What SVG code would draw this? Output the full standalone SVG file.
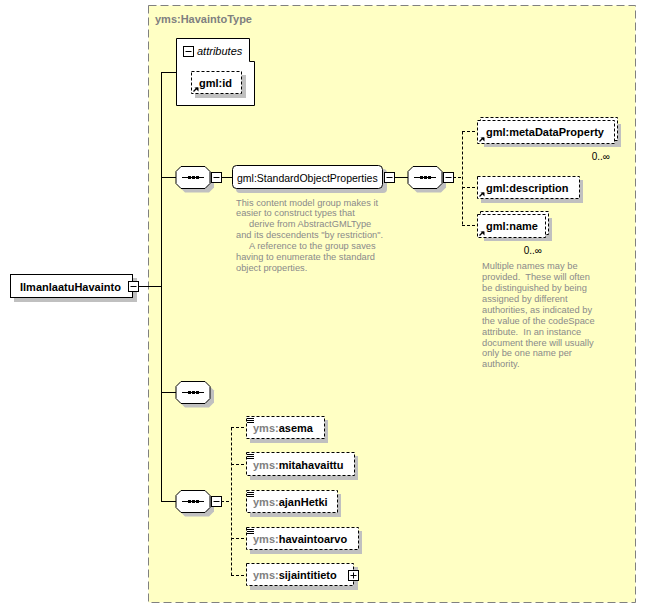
<svg xmlns="http://www.w3.org/2000/svg" width="647" height="609" viewBox="0 0 647 609">
<defs>
<style>
.shadow{fill:#c0c0c0;stroke:none}
.box{fill:#fff;stroke:#000;stroke-width:1}
.dbox{fill:#fff;stroke:#000;stroke-width:1;stroke-dasharray:3,2}
.ln{stroke:#000;stroke-width:1;fill:none}
.dln{stroke:#000;stroke-width:1;fill:none;stroke-dasharray:3,2}
.b{font-family:"Liberation Sans",Arial,sans-serif;font-size:11px;font-weight:bold;fill:#000}
.r{font-family:"Liberation Sans",Arial,sans-serif;font-size:10.5px;fill:#000}
.g{fill:#808080}
.c{font-family:"Liberation Sans",Arial,sans-serif;font-size:9.3px;fill:#8a8a8a}
.m{font-family:"Liberation Sans",Arial,sans-serif;font-size:10px;fill:#000}
</style>
<g id="comp">
<path class="shadow" d="M9,4 H33 L38,9 V21 L33,26 H9 L4,21 V9 Z"/>
<path class="box" d="M5,0 H29 L34,5 V17 L29,22 H5 L0,17 V5 Z"/>
<line class="ln" x1="6" y1="11" x2="28" y2="11"/>
<rect x="12" y="9.5" width="3" height="3" fill="#000"/>
<rect x="16" y="9.5" width="3" height="3" fill="#000"/>
<rect x="20" y="9.5" width="3" height="3" fill="#000"/>
</g>
<g id="minus"><rect class="box" x="0" y="0" width="10" height="10"/><line class="ln" x1="2" y1="5" x2="8" y2="5"/></g>
<g id="refarrow"><path d="M2,-2 L6,-6" stroke="#000" stroke-width="1.3"/><path d="M3,-6 H7 V-2 Z" fill="#000"/></g>
<g id="lines"><path d="M0,0 H7 M0,2 H7 M0,4 H7" stroke="#000" stroke-width="1"/></g>
</defs>

<rect x="148.5" y="5.5" width="487" height="597" fill="#ffffc4" stroke="#808080" stroke-dasharray="8,4"/>
<text class="b g" x="155" y="23">yms:HavaintoType</text>

<g id="connectors">
<line class="ln" x1="138" y1="286.5" x2="161.5" y2="286.5"/>
<line class="ln" x1="161.5" y1="72" x2="161.5" y2="501.5"/>
<line class="ln" x1="161" y1="72.5" x2="176" y2="72.5"/>
<line class="ln" x1="161" y1="177.5" x2="176" y2="177.5"/>
<line class="ln" x1="161" y1="392.5" x2="176" y2="392.5"/>
<line class="ln" x1="161" y1="501.5" x2="176" y2="501.5"/>
<line class="ln" x1="221" y1="177.5" x2="232" y2="177.5"/>
<line class="ln" x1="394" y1="177.5" x2="408" y2="177.5"/>
<line class="dln" x1="453" y1="177.5" x2="462.5" y2="177.5"/>
<line class="dln" x1="462.5" y1="131.5" x2="462.5" y2="225.5"/>
<line class="dln" x1="462" y1="131.5" x2="477" y2="131.5"/>
<line class="dln" x1="462" y1="187.5" x2="477" y2="187.5"/>
<line class="dln" x1="462" y1="225.5" x2="477" y2="225.5"/>
<line class="dln" x1="221" y1="501.5" x2="231" y2="501.5"/>
<line class="dln" x1="231.5" y1="427.5" x2="231.5" y2="575.5"/>
<line class="dln" x1="231" y1="427.5" x2="246" y2="427.5"/>
<line class="dln" x1="231" y1="464.5" x2="246" y2="464.5"/>
<line class="dln" x1="231" y1="538.5" x2="246" y2="538.5"/>
<line class="dln" x1="231" y1="575.5" x2="246" y2="575.5"/>
</g>

<g id="IlmanlaatuHavainto">
<rect class="shadow" x="14" y="278" width="123" height="24"/>
<rect class="box" x="10.5" y="274.5" width="122" height="23"/>
<text class="b" x="20" y="290.5">IlmanlaatuHavainto</text>
<use href="#minus" x="128.5" y="281.5"/>
</g>

<g id="attributes">
<path class="box" d="M176.5,38.5 H249.5 V61.5 H254.5 V105.5 H176.5 Z"/>
<use href="#minus" x="183.5" y="46.5"/>
<text class="b" x="197" y="55" style="font-weight:normal;font-style:italic">attributes</text>
</g>

<g id="gml_id">
<rect class="shadow" x="195" y="75" width="51" height="23"/>
<rect class="dbox" x="191.5" y="71.5" width="50" height="22"/>
<use href="#refarrow" x="191.5" y="93.5"/>
<text class="b" x="199" y="87">gml:id</text>
</g>

<g id="seq1">
<use href="#comp" x="176" y="166.5"/>
<use href="#minus" x="211.5" y="172.5"/>
</g>

<g id="StandardObjectProperties">
<rect class="shadow" x="236" y="169" width="151" height="24" rx="4"/>
<rect class="box" x="232.5" y="165.5" width="150" height="23" rx="4"/>
<text class="r" x="237" y="181.5">gml:StandardObjectProperties</text>
<use href="#minus" x="384.5" y="172.5"/>
<text class="c">
<tspan x="236" y="205.5">This content model group makes it</tspan>
<tspan x="236" y="216.4">easier to construct types that</tspan>
<tspan x="249" y="227.3">derive from AbstractGMLType</tspan>
<tspan x="236" y="238.2">and its descendents "by restriction".</tspan>
<tspan x="249" y="249.1">A reference to the group saves</tspan>
<tspan x="236" y="260">having to enumerate the standard</tspan>
<tspan x="236" y="270.9">object properties.</tspan>
</text>
</g>

<g id="seq2">
<use href="#comp" x="408" y="166.5"/>
<use href="#minus" x="443.5" y="172.5"/>
</g>

<g id="metaDataProperty">
<rect class="shadow" x="484" y="124" width="137" height="23"/>
<rect class="dbox" x="480.5" y="117.5" width="137" height="23"/>
<rect class="dbox" x="477.5" y="120.5" width="137" height="23"/>
<use href="#refarrow" x="477.5" y="143.5"/>
<text class="b" x="486" y="136">gml:metaDataProperty</text>
<text class="m" x="610" y="160" text-anchor="end">0..∞</text>
</g>

<g id="description">
<rect class="shadow" x="481" y="180" width="102" height="23"/>
<rect class="dbox" x="477.5" y="176.5" width="102" height="22"/>
<use href="#refarrow" x="477.5" y="198.5"/>
<text class="b" x="486" y="192">gml:description</text>
</g>

<g id="name">
<rect class="shadow" x="484" y="218" width="68" height="23"/>
<rect class="dbox" x="480.5" y="211.5" width="68" height="23"/>
<rect class="dbox" x="477.5" y="214.5" width="68" height="23"/>
<use href="#refarrow" x="477.5" y="237.5"/>
<text class="b" x="486" y="230">gml:name</text>
<text class="m" x="542" y="253.5" text-anchor="end">0..∞</text>
<text class="c">
<tspan x="482" y="269.2">Multiple names may be</tspan>
<tspan x="482" y="280.1" xml:space="preserve">provided.  These will often</tspan>
<tspan x="482" y="291">be distinguished by being</tspan>
<tspan x="482" y="301.9">assigned by different</tspan>
<tspan x="482" y="312.8">authorities, as indicated by</tspan>
<tspan x="482" y="323.7">the value of the codeSpace</tspan>
<tspan x="482" y="334.6" xml:space="preserve">attribute.  In an instance</tspan>
<tspan x="482" y="345.5">document there will usually</tspan>
<tspan x="482" y="356.4">only be one name per</tspan>
<tspan x="482" y="367.3">authority.</tspan>
</text>
</g>

<g id="seq3">
<use href="#comp" x="176" y="381.5"/>
</g>

<g id="seq4">
<use href="#comp" x="176" y="490.5"/>
<use href="#minus" x="211.5" y="496.5"/>
</g>

<g id="asema">
<rect class="shadow" x="250" y="420" width="78" height="23"/>
<rect class="dbox" x="246.5" y="416.5" width="78" height="22"/>
<use href="#lines" x="247" y="418.5"/>
<text class="b" x="253" y="432"><tspan class="g">yms:</tspan>asema</text>
</g>

<g id="mitahavaittu">
<rect class="shadow" x="250" y="456" width="108" height="24"/>
<rect class="dbox" x="246.5" y="452.5" width="108" height="23"/>
<use href="#lines" x="247" y="454.5"/>
<text class="b" x="253" y="469"><tspan class="g">yms:</tspan>mitahavaittu</text>
</g>

<g id="ajanHetki">
<rect class="shadow" x="250" y="494" width="91" height="23"/>
<rect class="dbox" x="246.5" y="490.5" width="91" height="22"/>
<use href="#lines" x="247" y="492.5"/>
<text class="b" x="253" y="506"><tspan class="g">yms:</tspan>ajanHetki</text>
</g>

<g id="havaintoarvo">
<rect class="shadow" x="250" y="531" width="112" height="23"/>
<rect class="dbox" x="246.5" y="527.5" width="112" height="22"/>
<use href="#lines" x="247" y="529.5"/>
<text class="b" x="253" y="543"><tspan class="g">yms:</tspan>havaintoarvo</text>
</g>

<g id="sijaintitieto">
<rect class="shadow" x="250" y="567" width="108" height="23"/>
<rect class="dbox" x="246.5" y="563.5" width="107" height="22"/>
<text class="b" x="253" y="579"><tspan class="g">yms:</tspan>sijaintitieto</text>
<rect class="box" x="348.5" y="570.5" width="10" height="10"/>
<path class="ln" d="M350.5,575.5 H356.5 M353.5,572.5 V578.5"/>
</g>
</svg>
